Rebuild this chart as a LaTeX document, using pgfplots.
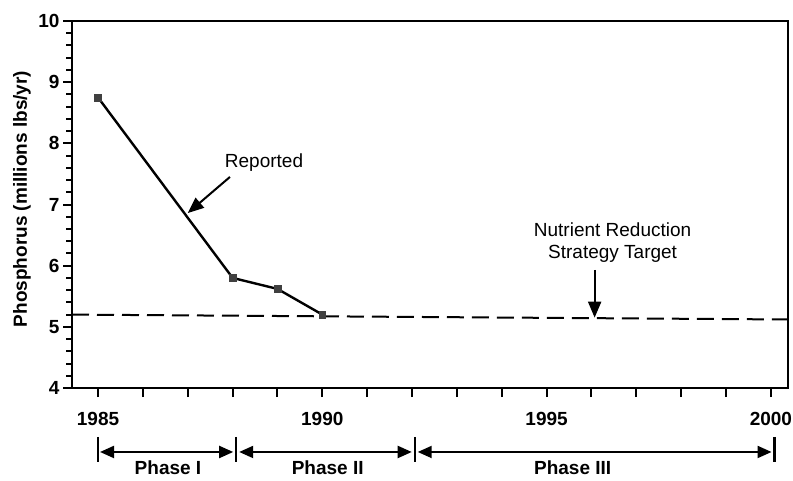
\documentclass[border=0pt]{standalone}
\usepackage{fontspec}
\setmainfont{Liberation Sans}
\usepackage{pgfplots}
\pgfplotsset{compat=1.18}
\usetikzlibrary{arrows.meta}
\begin{document}
\begin{tikzpicture}[x=1pt,y=1pt]
\useasboundingbox (0,0) rectangle (793,480);
\begin{axis}[
  at={(72pt,92pt)}, anchor=south west,
  scale only axis, width=716pt, height=367pt,
  xmin=1984.42, xmax=2000.38, ymin=4, ymax=10,
  clip=false,
  axis line style={line width=2.2pt},
  tick pos=left,
  tick align=outside,
  xtick={1985,...,2000},
  xticklabels={1985,,,,,1990,,,,,1995,,,,,2000},
  ytick={4,...,10},
  minor y tick num=4,
  major tick length=9pt, minor tick length=6pt,
  every tick/.style={black, line width=2pt},
  tick label style={font=\fontsize{19}{22}\selectfont\bfseries},
  xticklabel style={yshift=-12pt},
  /pgf/number format/assume math mode=true,
  ylabel={Phosphorus (millions lbs/yr)},
  ylabel style={font=\fontsize{19}{22}\selectfont\bfseries, at={(axis description cs:-0.07,0.515)}, anchor=center},
]
\addplot[line width=2.4pt, black, mark=square*, mark size=3.4pt, mark options={fill=black!75, draw=black!75, line width=0.5pt}]
  coordinates {(1985,8.75) (1988,5.8) (1989,5.62) (1990,5.2)};
\addplot[line width=2pt, black, dash pattern=on 17pt off 8pt]
  coordinates {(1984.42,5.2) (2000.38,5.12)};

% annotations
\node[font=\fontsize{19}{22}\selectfont] at (axis cs:1988.7,7.68) {Reported};
\draw[line width=2pt, -{Triangle[length=16pt,width=13pt]}] (axis cs:1987.94,7.45) -- (axis cs:1987.0,6.86);
\node[font=\fontsize{19}{22}\selectfont, align=center] at (axis cs:1996.47,6.38) {Nutrient Reduction\\Strategy Target};
\draw[line width=2pt, -{Triangle[length=16pt,width=13pt]}] (axis cs:1996.07,5.93) -- (axis cs:1996.07,5.15);

% phases
\draw[line width=2.2pt] (axis cs:1985,3.2) -- (axis cs:1985,2.79);
\draw[line width=2.2pt] (axis cs:1988.08,3.2) -- (axis cs:1988.08,2.79);
\draw[line width=2.2pt] (axis cs:1992.06,3.2) -- (axis cs:1992.06,2.79);
\draw[line width=2.2pt] (axis cs:2000.08,3.2) -- (axis cs:2000.08,2.79);
\draw[line width=2pt, {Triangle[length=14pt,width=12pt]}-{Triangle[length=14pt,width=12pt]}, shorten <=2pt, shorten >=3pt] (axis cs:1985,2.954) -- (axis cs:1988.08,2.954);
\draw[line width=2pt, {Triangle[length=14pt,width=12pt]}-{Triangle[length=14pt,width=12pt]}, shorten <=3pt, shorten >=3pt] (axis cs:1988.08,2.954) -- (axis cs:1992.06,2.954);
\draw[line width=2pt, {Triangle[length=14pt,width=12pt]}-{Triangle[length=14pt,width=12pt]}, shorten <=3pt, shorten >=3pt] (axis cs:1992.06,2.954) -- (axis cs:2000.08,2.954);
\node[font=\fontsize{19}{22}\selectfont\bfseries] at (axis cs:1986.56,2.69) {Phase I};
\node[font=\fontsize{19}{22}\selectfont\bfseries] at (axis cs:1990.12,2.69) {Phase II};
\node[font=\fontsize{19}{22}\selectfont\bfseries] at (axis cs:1995.58,2.69) {Phase III};
\end{axis}
\end{tikzpicture}
\end{document}
